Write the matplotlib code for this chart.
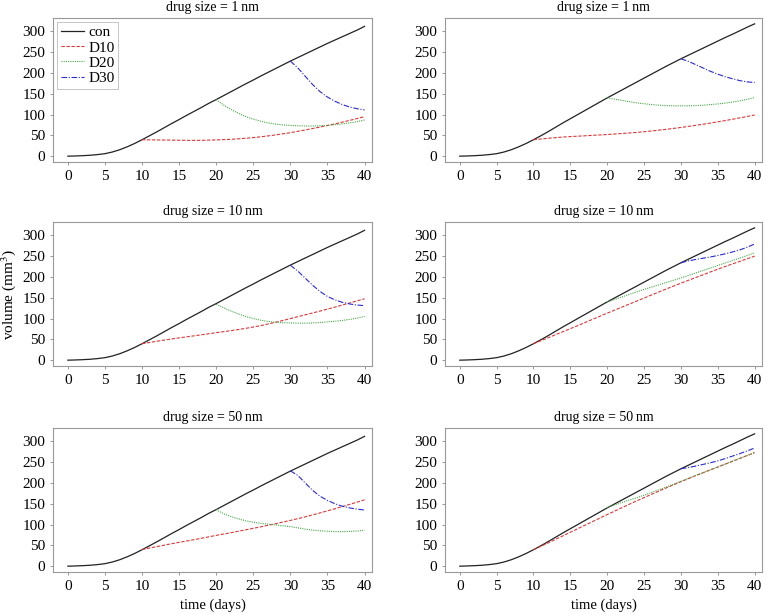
import numpy as np
import matplotlib
matplotlib.use("Agg")
import matplotlib.pyplot as plt

plt.rcParams['font.family'] = ['Liberation Serif', 'DejaVu Serif']
plt.rcParams['mathtext.fontset'] = 'stix'

# time axes (days)
days_con = list(range(0, 41))
days_d10 = list(range(10, 41, 2))
days_d20 = list(range(20, 41))
days_d30 = list(range(30, 41))

# control growth (left / right column)
con_left = [0, 0.5, 1.2, 2.2, 3.8, 6, 10, 15.5, 22.5, 30.5, 39.5, 49, 58.5, 68.5, 78.5, 88,
            98, 107.5, 117, 127, 136, 145.5, 155, 164.5, 174, 183, 192.5, 201.5, 210.5,
            219.5, 228.5, 237, 245.5, 254, 262.5, 271, 279, 287, 295, 303, 312]
con_right = [0, 0.5, 1.2, 2.2, 3.8, 6, 10, 15.5, 22.5, 30.5, 39.5, 49, 59, 69.5, 80, 90,
             100, 110, 120, 130, 140, 149.5, 159, 168.5, 178, 187.5, 197, 206.5, 216,
             225, 234, 242.5, 251, 259.5, 268, 276.5, 285, 293, 301.5, 310, 318]

# row 1: drug size = 1 nm
d10_1l = [39.5, 39, 38.5, 38, 38, 39, 40.5, 43, 46.5, 51, 56.5, 63, 70, 77.5, 86, 95]
d20_1l = [136, 123, 112, 103, 95, 89, 84, 80, 77, 75, 74, 73, 72.5, 72.5, 73, 74, 75.5,
          77.5, 80, 83, 87]
d30_1l = [228.5, 212, 192, 172, 155, 142, 132, 124, 118, 114, 111]
d10_1r = [39.5, 43, 46, 48, 50, 52, 54.5, 57, 60.5, 64.5, 69, 74, 79.5, 85.5, 92, 99]
d20_1r = [140, 137, 134, 131, 128, 126, 124, 122.5, 121.5, 121, 121, 121, 121.5, 122.5,
          124, 125.5, 127.5, 130, 133, 136.5, 141]
d30_1r = [234, 228, 220, 212, 204, 197, 191, 186, 181.5, 178.5, 177]

# row 2: drug size = 10 nm
d10_2l = [39.5, 45.5, 51, 56, 61, 66, 71, 76.5, 83, 91, 100, 109, 118, 127.5, 137.5, 147.5]
d20_2l = [134, 126, 118, 111, 105, 100, 96, 93, 91, 90, 89.5, 89, 89, 89.5, 90.5, 92, 93.5,
          95.5, 98, 101, 105]
d30_2l = [228, 214, 197, 180, 165, 153, 145, 139, 135, 132.5, 131]
d10_2r = [39.5, 54, 68.5, 83, 98, 113, 127.5, 142, 156.5, 171, 185, 198.5, 212, 225,
          237.5, 250]
d20_2r = [140, 146, 152, 158, 164, 170, 175.5, 181, 186.5, 192, 197.5, 203.5, 209.5,
          215.5, 221.5, 227.5, 233.5, 239.5, 245.5, 251.5, 258]
d30_2r = [234, 238.5, 242, 245, 248, 251.5, 255.5, 260, 265, 271.5, 279]

# row 3: drug size = 50 nm
d10_3l = [40, 47, 54, 60.5, 67, 74, 80.5, 87.5, 94.5, 102, 110, 118.5, 128, 138, 148.5,
          159.5]
d20_3l = [136, 126, 119, 113.5, 109, 105.5, 103, 101, 99, 97, 95, 92, 89, 86.5, 85, 84, 83,
          83, 83.5, 84.5, 86]
d30_3l = [229, 218, 200, 182, 168, 158, 150, 144, 140, 137, 135]
d10_3r = [39.5, 56, 73, 90, 107, 124, 140.5, 157, 172.5, 188, 203, 217.5, 231.5, 245, 259,
          273]
d20_3r = [141, 147, 153, 159, 164.5, 170.5, 177, 183.5, 190, 197, 204, 211, 218, 224.5,
          231.5, 238.5, 245.5, 252.5, 259, 266, 273]
d30_3r = [234, 237, 240.5, 244.5, 248.5, 253, 258.5, 264.5, 270.5, 277, 284]

titles = ['drug size = 1\u2009nm', 'drug size = 1\u2009nm',
          'drug size = 10\u2009nm', 'drug size = 10\u2009nm',
          'drug size = 50\u2009nm', 'drug size = 50\u2009nm']

panels = [
    (con_left, d10_1l, d20_1l, d30_1l),
    (con_right, d10_1r, d20_1r, d30_1r),
    (con_left, d10_2l, d20_2l, d30_2l),
    (con_right, d10_2r, d20_2r, d30_2r),
    (con_left, d10_3l, d20_3l, d30_3l),
    (con_right, d10_3r, d20_3r, d30_3r),
]

fig = plt.figure(figsize=(7.73, 6.14), dpi=100)

W, H = 773.0, 614.0
col_x = [53, 445]
col_w = [319, 317]
row_top = [18, 222, 428]
row_h = 144

for i, (con, d10, d20, d30) in enumerate(panels):
    r, c = divmod(i, 2)
    ax = fig.add_axes([col_x[c] / W, 1 - (row_top[r] + row_h) / H, col_w[c] / W, row_h / H])
    ax.plot(days_con, con, color='#222222', lw=0.9, label='con')
    ax.plot(days_d10, d10, color='#e03535', lw=0.8, ls=(0, (3, 1.5)), label='D10')
    ax.plot(days_d20, d20, color='#4aa84a', lw=0.8, ls=(0, (1, 1)), label='D20')
    ax.plot(days_d30, d30, color='#2a2ad8', lw=0.8, ls=(0, (5, 1.5, 1, 1.5)), label='D30')
    ax.set_xlim(-2, 41)
    ax.set_ylim(-14, 332)
    ax.set_xticks(range(0, 41, 5))
    ax.set_yticks(range(0, 301, 50))
    ax.set_title(titles[i], fontsize=10, pad=5)
    ax.tick_params(labelsize=11, length=2.5, width=0.6, color='#888888', pad=3)
    for s in ax.spines.values():
        s.set_color('#999999')
        s.set_linewidth(0.8)
    if i == 0:
        leg = ax.legend(loc='upper left', fontsize=11, fancybox=False, handlelength=1.5,
                        borderpad=0.25, labelspacing=0.1, handletextpad=0.3,
                        borderaxespad=0.25)
        leg.get_frame().set_edgecolor('#aaaaaa')
        leg.get_frame().set_linewidth(0.6)
    if i == 2:
        ax.set_ylabel('volume (mm$^3$)', fontsize=11, labelpad=3)
    if r == 2:
        ax.set_xlabel('time (days)', fontsize=10.5)

plt.savefig('out.png', dpi=100)
